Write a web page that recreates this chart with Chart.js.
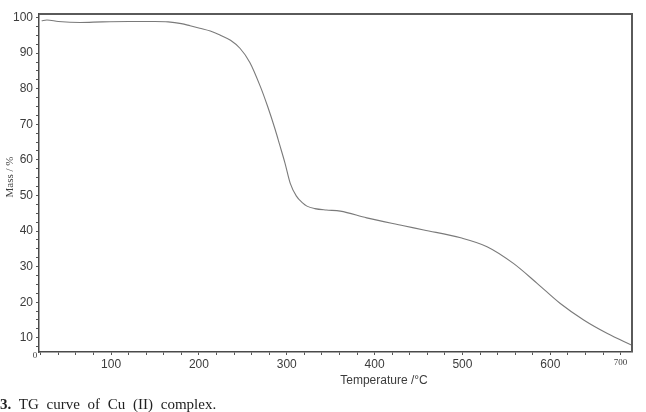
<!DOCTYPE html>
<html>
<head>
<meta charset="utf-8">
<script src="https://cdn.jsdelivr.net/npm/chart.js@4/dist/chart.umd.min.js"></script>
<style>
  html, body { margin: 0; padding: 0; background: #fff; }
  #wrap { position: relative; width: 646px; height: 412px; }
  #caption {
    position: absolute; left: 0; top: 396px;
    font: 15px "Liberation Serif", serif; color: #222; word-spacing: 4px;
    white-space: nowrap;
  }
</style>
</head>
<body>
<div id="wrap">
  <canvas id="tg" width="646" height="412"></canvas>
  <div id="caption"><b>3.</b> TG curve of Cu (II) complex.</div>
</div>
<script>
// temperature (°C) vs mass (%)
const temps = [21, 27, 40, 65, 90, 120, 150, 165, 180, 190, 201, 213, 224, 236, 247, 258, 270,
               278, 287, 292, 298, 304, 311, 318, 323, 332, 345, 361, 391, 433, 456, 498, 528, 558,
               585, 611, 638, 665, 693];
const mass  = [99.1, 99.3, 98.9, 98.6, 98.8, 98.9, 98.9, 98.8, 98.3, 97.7, 97.0, 96.2, 95.1, 93.6, 91.3, 87.4, 80.6,
               75.2, 68.4, 64.2, 59.1, 53.4, 49.8, 47.9, 47.0, 46.3, 45.9, 45.6, 43.7, 41.5, 40.3, 38.1, 35.6, 30.9,
               25.3, 19.7, 15.0, 11.2, 7.9];

// x labels (the "700" sits on the last minor tick in the original figure)
const xLabelAt    = [100, 200, 300, 400, 500, 600, 680];
const xTickLabels = ['100', '200', '300', '400', '500', '600', '700'];
const yTickLabels = [10, 20, 30, 40, 50, 60, 70, 80, 90, 100];

const xMinor = [];
for (let v = 20; v <= 680; v += 20) xMinor.push(v);
const yMinor = [];
for (let v = 7.5; v <= 100; v += 2.5) yMinor.push(v);

const INK = '#3c3c3c';
const SANS = '"Liberation Sans", Arial, sans-serif';
const SERIF = '"Liberation Serif", "Times New Roman", serif';

const extras = {
  id: 'extras',
  afterDraw(chart) {
    const { ctx, chartArea: a } = chart;
    ctx.save();
    // top + right frame
    ctx.strokeStyle = '#5a5a5a';
    ctx.lineWidth = 2;
    ctx.beginPath();
    ctx.moveTo(a.left, a.top);
    ctx.lineTo(a.right, a.top);
    ctx.lineTo(a.right, a.bottom);
    ctx.stroke();

    ctx.fillStyle = INK;
    ctx.textAlign = 'center';
    ctx.textBaseline = 'middle';
    ctx.font = '12px ' + SANS;
    ctx.fillText('Temperature /°C', 384, 381);

    ctx.font = '9px ' + SERIF;
    ctx.fillText('0', 35, 356);

    ctx.translate(10, 177);
    ctx.rotate(-Math.PI / 2);
    ctx.font = '11px ' + SERIF;
    ctx.fillText('Mass / %', 0, 0);
    ctx.restore();
  }
};

new Chart(document.getElementById('tg'), {
  type: 'line',
  data: {
    datasets: [{
      data: temps.map((t, i) => ({ x: t, y: mass[i] })),
      borderColor: '#7a7a7a',
      borderWidth: 1.1,
      pointRadius: 0,
      cubicInterpolationMode: 'monotone',
      fill: false
    }]
  },
  options: {
    responsive: false,
    animation: false,
    layout: { padding: { top: 14, right: 14, left: 0, bottom: 0 } },
    plugins: { legend: { display: false }, tooltip: { enabled: false } },
    scales: {
      x: {
        type: 'linear',
        min: 18, max: 693,
        afterBuildTicks: s => { s.ticks = xMinor.map(v => ({ value: v })); },
        afterFit: s => { s.height = 60; },
        grid: { drawOnChartArea: false, tickLength: 3, tickColor: '#555', tickWidth: 1 },
        border: { color: '#4a4a4a', width: 1.5 },
        ticks: {
          autoSkip: false, maxRotation: 0, padding: 2, color: INK,
          font: ctx => (ctx.tick && ctx.tick.value === 680)
            ? { family: SERIF, size: 9 }
            : { family: SANS, size: 12 },
          callback: v => {
            const i = xLabelAt.indexOf(v);
            return i >= 0 ? xTickLabels[i] : '';
          }
        }
      },
      y: {
        min: 6, max: 101,
        afterBuildTicks: s => { s.ticks = yMinor.map(v => ({ value: v })); },
        afterFit: s => { s.width = 39; },
        grid: { drawOnChartArea: false, tickLength: 3, tickColor: '#555', tickWidth: 1 },
        border: { color: '#4a4a4a', width: 1.5 },
        ticks: {
          autoSkip: false, padding: 3, color: INK,
          font: { family: SANS, size: 12 },
          callback: v => yTickLabels.includes(v) ? String(v) : ''
        }
      }
    }
  },
  plugins: [extras]
});
</script>
</body>
</html>
